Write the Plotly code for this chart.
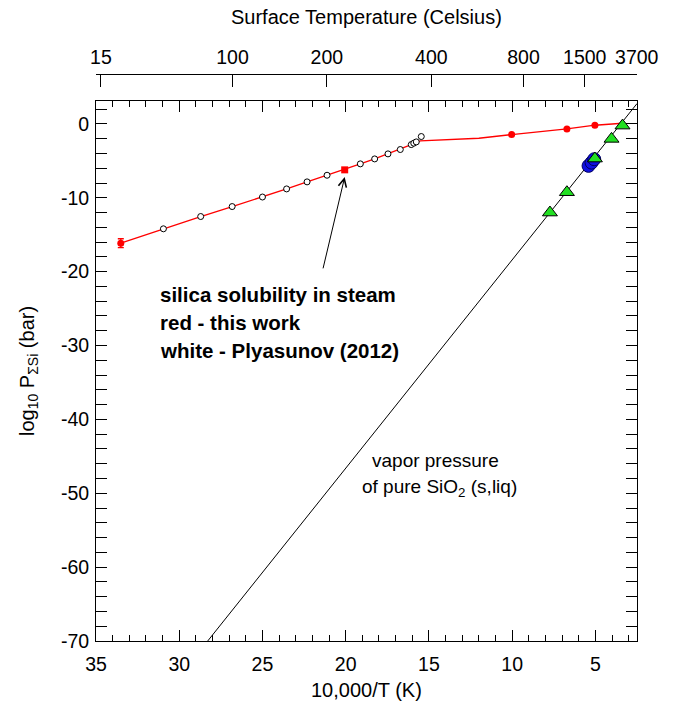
import plotly.graph_objects as go

# ---------------- data ----------------
# this work: model curve (red line)
red_curve_x = [33.51, 30.95, 28.71, 26.82, 25.0, 23.55, 22.32, 21.12, 20.06, 19.12,
               18.26, 17.46, 16.72, 16.06, 15.52, 12.0, 10.03, 6.71, 5.03, 3.37]
red_curve_y = [-16.15, -14.2, -12.54, -11.19, -9.9, -8.8, -7.85, -6.95, -6.22, -5.41,
               -4.74, -4.06, -3.47, -2.8, -2.3, -1.94, -1.44, -0.68, -0.18, 0.09]

# this work: red points
red_pts_x = [33.51, 10.03, 6.71, 5.03]
red_pts_y = [-16.15, -1.44, -0.68, -0.18]
red_pts_err = [0.6, 0, 0, 0]
red_sq_x = [20.06]
red_sq_y = [-6.22]

# Plyasunov (2012): white circles
ply_x = [30.95, 28.71, 26.82, 25.0, 23.55, 22.32, 21.12, 19.12, 18.26, 17.46,
         16.72, 16.06, 15.91, 15.76, 15.46]
ply_y = [-14.2, -12.54, -11.19, -9.9, -8.8, -7.85, -6.95, -5.41, -4.74, -4.06,
         -3.47, -2.8, -2.61, -2.44, -1.71]

# vapor pressure of pure SiO2
vap_x = [28.29, 2.5]
vap_y = [-70.0, 2.75]

# green triangles
tri_x = [7.73, 6.71, 5.03, 4.03, 3.37]
tri_y = [-12.0, -9.25, -4.69, -2.03, -0.23]

# blue circles
blue_x = [5.41, 5.23, 5.07]
blue_y = [-5.68, -5.24, -4.78]

# axes
x_range = [35, 2.5]
y_range = [-70, 3.1]
x_ticks = [35, 30, 25, 20, 15, 10, 5]
x_ticktext = ["35", "30", "25", "20", "15", "10", "5"]
y_ticks = [0, -10, -20, -30, -40, -50, -60, -70]
y_ticktext = ["0", "-10", "-20", "-30", "-40", "-50", "-60", "-70"]
celsius_ticks = [15, 100, 200, 400, 800, 1500, 3700]
top_tickvals = [10000.0 / (c + 273.15) for c in celsius_ticks]
top_ticktext = [str(c) for c in celsius_ticks]

FONT = "Liberation Sans, Arial, sans-serif"

fig = go.Figure()

fig.add_trace(go.Scatter(x=red_curve_x, y=red_curve_y, mode="lines",
                         line=dict(color="#ff0000", width=1.3), showlegend=False))
fig.add_trace(go.Scatter(x=vap_x, y=vap_y, mode="lines",
                         line=dict(color="black", width=1), showlegend=False))
fig.add_trace(go.Scatter(x=ply_x, y=ply_y, mode="markers",
                         marker=dict(symbol="circle", size=6, color="white",
                                     line=dict(color="black", width=1)),
                         showlegend=False))
fig.add_trace(go.Scatter(x=red_pts_x, y=red_pts_y, mode="markers",
                         marker=dict(symbol="circle", size=7, color="#ff0000",
                                     line=dict(width=0)),
                         error_y=dict(type="data", array=red_pts_err, visible=True,
                                      color="#ff0000", thickness=1.3, width=3),
                         showlegend=False))
fig.add_trace(go.Scatter(x=red_sq_x, y=red_sq_y, mode="markers",
                         marker=dict(symbol="square", size=7, color="#ff0000",
                                     line=dict(width=0)),
                         showlegend=False))
fig.add_trace(go.Scatter(x=blue_x, y=blue_y, mode="markers",
                         marker=dict(symbol="circle", size=13, color="#1010e0",
                                     line=dict(color="#000060", width=1)),
                         showlegend=False))
fig.add_trace(go.Scatter(x=tri_x, y=tri_y, mode="markers",
                         marker=dict(symbol="triangle-up", size=13, color="#22e022",
                                     line=dict(color="black", width=1)),
                         showlegend=False))
# dummy trace to register top axis
fig.add_trace(go.Scatter(x=[], y=[], xaxis="x2", yaxis="y", mode="lines",
                         showlegend=False, hoverinfo="skip"))

axis_common = dict(showline=True, linecolor="black", linewidth=1, showgrid=False,
                   zeroline=False, ticks="inside", tickcolor="black", tickwidth=1,
                   tickfont=dict(family=FONT, size=19.5, color="black"))

fig.update_layout(
    width=676, height=715,
    margin=dict(l=96, r=39, t=74, b=74),
    plot_bgcolor="white", paper_bgcolor="white",
    font=dict(family=FONT, color="black"),
    xaxis=dict(range=x_range, autorange=False, tickvals=x_ticks, ticktext=x_ticktext,
               ticklen=11, mirror="allticks", ticklabelstandoff=6,
               minor=dict(dtick=1, ticklen=6, ticks="inside", tickcolor="black",
                          showgrid=False),
               **axis_common),
    xaxis2=dict(range=x_range, autorange=False, overlaying="x", side="top",
                anchor="free", position=1.0, tickvals=top_tickvals,
                ticktext=top_ticktext, ticklen=12, ticklabelstandoff=2,
                **axis_common),
    yaxis=dict(range=y_range, autorange=False, domain=[0, 540 / 567],
               tickvals=y_ticks, ticktext=y_ticktext, ticklen=11, mirror="allticks",
               ticklabelstandoff=2,
               minor=dict(dtick=2, ticklen=6, ticks="inside", tickcolor="black",
                          showgrid=False),
               **axis_common),
)

ann = []
# axis titles
ann.append(dict(text="10,000/T (K)", x=0.5, y=(641 - 690) / 567, xref="paper",
                yref="paper", showarrow=False, xanchor="center", yanchor="middle",
                font=dict(family=FONT, size=20, color="black")))
ann.append(dict(text="Surface Temperature (Celsius)", x=0.5, y=(641 - 17) / 567,
                xref="paper", yref="paper", showarrow=False, xanchor="center",
                yanchor="middle", font=dict(family=FONT, size=20, color="black")))
ann.append(dict(text="log<sub>10</sub> P<sub>ΣSi</sub> (bar)", x=(28 - 96) / 541,
                y=(641 - 371) / 567, xref="paper", yref="paper", showarrow=False,
                textangle=-90, xanchor="center", yanchor="middle",
                font=dict(family=FONT, size=20, color="black")))
# bold legend text
for txt, py in [("silica solubility in steam", 294), ("red - this work", 322),
                ("white - Plyasunov (2012)", 350)]:
    ann.append(dict(text="<b>" + txt + "</b>", x=(158 - 96) / 541, y=(641 - py) / 567,
                    xref="paper", yref="paper", showarrow=False, xanchor="left",
                    yanchor="middle", font=dict(family=FONT, size=20.5, color="black")))
ann.append(dict(text="vapor pressure", x=(370 - 96) / 541, y=(641 - 460) / 567,
                xref="paper", yref="paper", showarrow=False, xanchor="left",
                yanchor="middle", font=dict(family=FONT, size=19, color="black")))
ann.append(dict(text="of pure SiO<sub>2</sub> (s,liq)", x=(360 - 96) / 541,
                y=(641 - 488) / 567, xref="paper", yref="paper", showarrow=False,
                xanchor="left", yanchor="middle",
                font=dict(family=FONT, size=19, color="black")))
# arrow
ann.append(dict(text="", x=20.06, y=-7.2, xref="x", yref="y", ax=21.38, ay=-19.76,
                axref="x", ayref="y", showarrow=True, arrowhead=5, arrowsize=1.6,
                arrowwidth=1, arrowcolor="black"))

fig.update_layout(annotations=ann)

fig.write_html("out.html",
               config={"displayModeBar": False},
               post_script="document.body.style.margin='0';document.body.style.padding='0';")
